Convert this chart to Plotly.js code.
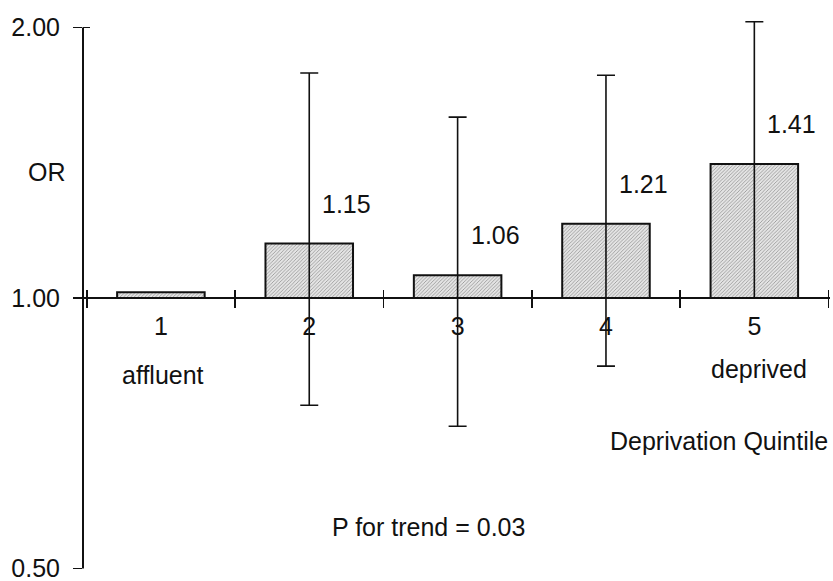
<!DOCTYPE html>
<html><head><meta charset="utf-8">
<script src="https://cdn.plot.ly/plotly-3.0.1.min.js"></script>
<style>html,body{margin:0;padding:0;background:#fff}#chart{width:833px;height:581px}</style>
</head><body><div id="chart"></div>
<script>
const quintiles = ['1', '2', '3', '4', '5'];
const oddsRatios = [1.015, 1.15, 1.06, 1.21, 1.41];
const valueLabels = ['', '1.15', '1.06', '1.21', '1.41'];
const ciLower = [null, 0.76, 0.72, 0.84, 1.00];
const ciUpper = [null, 1.78, 1.59, 1.77, 2.03];
const yTickVals = [0.5, 1, 2];
const yTickText = ['0.50', '1.00', '2.00'];
const endLabelCats = ['1', '5'];
const endLabelTexts = ['affluent', 'deprived'];

const FONT = 'Liberation Sans, Arial, sans-serif';
const FS = 25;
const yRange = [Math.log10(0.4995), Math.log10(2.06)];
const span = yRange[1] - yRange[0];
const xPos = (0 - yRange[0]) / span;        // where OR = 1 sits
const yTopFrac = (Math.log10(Math.max(...yTickVals)) - yRange[0]) / span;
const yBotFrac = (Math.log10(Math.min(...yTickVals)) - yRange[0]) / span;
const xRange = [-0.525, 4.51];

const errPlus = oddsRatios.map((v, i) => ciUpper[i] == null ? NaN : ciUpper[i] - v);
const errMinus = oddsRatios.map((v, i) => ciLower[i] == null ? NaN : v - ciLower[i]);

const bars = {
  type: 'bar',
  x: quintiles,
  y: oddsRatios.map(v => v - 1),
  base: 1,
  width: 0.59,
  marker: {
    color: '#dadada',
    line: {color: '#111', width: 2},
    pattern: {shape: '/', fgcolor: '#9a9a9a', bgcolor: '#e4e4e4', size: 2.5, solidity: 0.35}
  },
  error_y: {
    type: 'data', symmetric: false,
    array: errPlus, arrayminus: errMinus,
    color: '#111', thickness: 1.6, width: 9
  },
  hoverinfo: 'skip',
  showlegend: false
};

const ghost = {
  type: 'scatter', mode: 'markers',
  x: quintiles, y: quintiles.map(() => 1),
  xaxis: 'x2', yaxis: 'y2',
  marker: {opacity: 0}, hoverinfo: 'skip', showlegend: false
};

const annotations = [];
valueLabels.forEach((t, i) => {
  if (!t) return;
  annotations.push({
    x: i, y: Math.log10(oddsRatios[i]), xref: 'x', yref: 'y',
    text: t, showarrow: false, xanchor: 'left', yanchor: 'middle',
    xshift: 11, yshift: 40, font: {family: FONT, size: FS, color: '#111'}
  });
});
endLabelCats.forEach((c, i) => {
  annotations.push({
    x: quintiles.indexOf(c), y: i === 0 ? 0.351 : 0.362, xref: 'x', yref: 'paper',
    text: endLabelTexts[i], showarrow: false, xanchor: 'center', yanchor: 'middle',
    xshift: i === 0 ? 2 : 5,
    font: {family: FONT, size: FS, color: '#111'}
  });
});
annotations.push({
  x: 1.0, y: 0.231, xref: 'paper', yref: 'paper', text: 'Deprivation Quintile',
  showarrow: false, xanchor: 'right', yanchor: 'middle', font: {family: FONT, size: FS, color: '#111'}
});
annotations.push({
  x: 0.463, y: 0.076, xref: 'paper', yref: 'paper', text: 'P for trend = 0.03',
  showarrow: false, xanchor: 'center', yanchor: 'middle', font: {family: FONT, size: FS, color: '#111'}
});
annotations.push({
  x: -0.048, y: 0.718, xref: 'paper', yref: 'paper', text: 'OR',
  showarrow: false, xanchor: 'center', yanchor: 'middle', font: {family: FONT, size: FS, color: '#111'}
});

const layout = {
  width: 833, height: 581,
  margin: {l: 83, r: 3, t: 16, b: 12},
  paper_bgcolor: '#fff', plot_bgcolor: '#fff',
  font: {family: FONT, size: FS, color: '#111'},
  showlegend: false,
  xaxis: {
    type: 'category', range: xRange, anchor: 'free', position: xPos,
    showline: true, linecolor: '#111', linewidth: 2,
    tickson: 'boundaries', ticks: 'outside', ticklen: 9, tickwidth: 1.6, tickcolor: '#111',
    showgrid: false, zeroline: false, ticklabelstandoff: 6,
    tickfont: {family: FONT, size: FS, color: '#111'}
  },
  xaxis2: {
    type: 'category', range: xRange, overlaying: 'x', anchor: 'free', position: xPos,
    showline: false, tickson: 'boundaries', ticks: 'inside', ticklen: 8, tickwidth: 1.6,
    tickcolor: '#111', showticklabels: false, showgrid: false, zeroline: false
  },
  yaxis: {
    type: 'log', range: yRange, tickvals: yTickVals, ticktext: yTickText,
    showline: false, ticks: 'outside', ticklen: 9, tickwidth: 1.6, tickcolor: '#111',
    showgrid: false, zeroline: false, ticklabelstandoff: 8, ticklabeloverflow: 'allow',
    tickfont: {family: FONT, size: FS, color: '#111'}
  },
  yaxis2: {
    type: 'log', range: yRange, overlaying: 'y', anchor: 'x', side: 'left',
    tickvals: yTickVals, ticks: 'inside', ticklen: 7, tickwidth: 1.6, tickcolor: '#111',
    showticklabels: false, showline: false, showgrid: false, zeroline: false
  },
  shapes: [{
    type: 'line', xref: 'paper', yref: 'paper', x0: 0, x1: 0, y0: yBotFrac, y1: yTopFrac,
    line: {color: '#111', width: 2}
  }],
  annotations: annotations
};

Plotly.newPlot('chart', [bars, ghost], layout, {displayModeBar: false, staticPlot: true});
</script>
</body></html>
